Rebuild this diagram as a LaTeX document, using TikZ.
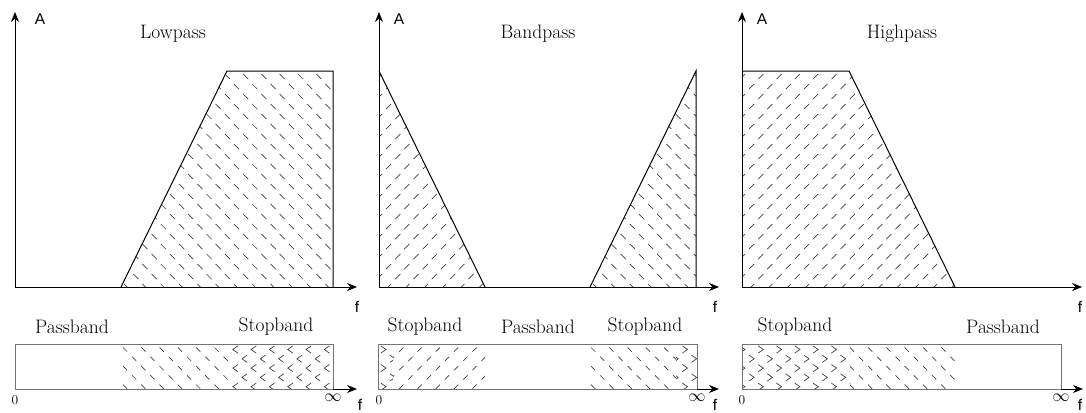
\documentclass[tikz,border=0pt]{standalone}
\usepackage{fontspec}
\newfontfamily\sansf{Liberation Sans}
\usetikzlibrary{arrows.meta}
\tikzset{
  ax/.style={line width=1pt, black, -{Stealth[length=10pt,width=8pt]}},
  edge/.style={line width=1pt, black},
  bar/.style={line width=0.9pt, draw=black!55},
  hl/.style={line width=0.7pt, black!75, line cap=round},
  ttl/.style={font=\fontsize{19.5}{20}\selectfont, inner sep=0pt},
  lab/.style={font=\sansf\fontsize{15.5}{16}\selectfont, inner sep=0pt},
  num/.style={font=\fontsize{13.5}{14}\selectfont, inner sep=0pt},
  inf/.style={font=\fontsize{18}{18}\selectfont, inner sep=0pt},
}
% grid of marks: #1 x-start, #2 x-end, #3 y-start, #4 number of rows, #5 row step, #6 drawing command using \xx,\yy
\newcommand\hatchgrid[6]{%
  \pgfmathtruncatemacro\hgnc{(#2-#1)/18.3+1}%
  \foreach \rr in {0,...,#4}{%
    \foreach \cc in {0,...,\hgnc}{%
      \pgfmathsetmacro\xx{#1+18.3*\cc+9.15*mod(\rr,2)}%
      \pgfmathsetmacro\yy{#3+#5*\rr}%
      #6
    }%
  }%
}
\newcommand\dashdown{\draw[hl] (\xx,\yy) -- ++(5,5);}
\newcommand\dashup{\draw[hl] (\xx,\yy) ++(0,5) -- ++(5,-5);}
\newcommand\bdown{\draw[hl] (\xx,\yy) -- ++(4,4);}
\newcommand\bup{\draw[hl] (\xx,\yy) ++(0,4) -- ++(4,-4);}
\newcommand\chevl{\draw[hl] (\xx,\yy) ++(5,-1.5) -- ++(-5,3.5) -- ++(5,3.5);}
\newcommand\chevr{\draw[hl] (\xx,\yy) ++(0,-1.5) -- ++(5,3.5) -- ++(-5,3.5);}
\begin{document}
\begin{tikzpicture}[x=1pt,y=-1pt]
\useasboundingbox (0,0) rectangle (1086,412);

% ================= Lowpass =================
\begin{scope}[xshift=15pt]
  \coordinate (o1) at (0,287);
  \coordinate (ya1) at (0,12);
  \coordinate (xa1) at (342,287);
  \begin{scope}
    \clip (106,287) -- (212,71) -- (318,71) -- (318,287) -- cycle;
    \hatchgrid{100}{330}{74}{21}{10}{\dashdown}
  \end{scope}
  \draw[edge] (106,287) -- (212,71) -- (318,71) -- (318,287);
  \draw[ax] (o1) -- (ya1);
  \draw[ax] (o1) -- (xa1);
  \node[lab] (A1) at (25,19) {A};
  \node[ttl] (t1) at (158,34) {Lowpass};
  \node[lab] (f1) at (342,307) {f};
  % bar
  \coordinate (b1) at (318,389);
  \coordinate (bx1) at (342,389);
  \begin{scope}
    \clip (106,344) rectangle (216,389);
    \hatchgrid{108}{230}{347.5}{4}{9.3}{\bdown}
  \end{scope}
  \begin{scope}
    \clip (216,344) rectangle (318,389);
    \hatchgrid{108}{330}{347.5}{4}{9.3}{\chevl}
  \end{scope}
  \draw[bar] (0,344) rectangle (318,389);
  \draw[ax] (b1) -- (bx1);
  \node[ttl] (p1) at (57,327) {Passband};
  \node[ttl] (s1) at (261,327) {Stopband};
  \node[num] (z1) at (0,400) {0};
  \node[inf] (i1) at (318,398) {$\infty$};
  \node[lab] (g1) at (345,405) {f};
\end{scope}

% ================= Bandpass =================
\begin{scope}[xshift=379pt]
  \coordinate (o2) at (0,287);
  \coordinate (ya2) at (0,12);
  \coordinate (xa2) at (340,287);
  \begin{scope}
    \clip (0,71) -- (106,287) -- (0,287) -- cycle;
    \hatchgrid{-2}{110}{74}{21}{10}{\dashup}
  \end{scope}
  \begin{scope}
    \clip (211,287) -- (317,71) -- (317,287) -- cycle;
    \hatchgrid{205}{330}{74}{21}{10}{\dashdown}
  \end{scope}
  \draw[edge] (0,71) -- (106,287);
  \draw[edge] (211,287) -- (317,71) -- (317,287);
  \draw[ax] (o2) -- (ya2);
  \draw[ax] (o2) -- (xa2);
  \node[lab] (A2) at (20,19) {A};
  \node[ttl] (t2) at (159,34) {Bandpass};
  \node[lab] (f2) at (336,307) {f};
  % bar
  \coordinate (b2) at (318,389);
  \coordinate (bx2) at (340,389);
  \begin{scope}
    \clip (-1,344) rectangle (14,389);
    \hatchgrid{2}{110}{347.5}{4}{9.3}{\chevr}
  \end{scope}
  \begin{scope}
    \clip (14,344) rectangle (106,389);
    \hatchgrid{2}{110}{347.5}{4}{9.3}{\bup}
  \end{scope}
  \begin{scope}
    \clip (211,344) rectangle (297,389);
    \hatchgrid{212}{330}{347.5}{4}{9.3}{\bdown}
  \end{scope}
  \begin{scope}
    \clip (297,344) rectangle (318,389);
    \hatchgrid{212}{330}{347.5}{4}{9.3}{\chevr}
  \end{scope}
  \draw[bar] (-1,344) rectangle (318,389);
  \draw[ax] (b2) -- (bx2);
  \node[ttl] (s2a) at (46,327) {Stopband};
  \node[ttl] (p2) at (159,327) {Passband};
  \node[ttl] (s2b) at (266,327) {Stopband};
  \node[num] (z2) at (0,400) {0};
  \node[inf] (i2) at (318,398) {$\infty$};
  \node[lab] (g2) at (336,405) {f};
\end{scope}

% ================= Highpass =================
\begin{scope}[xshift=742pt]
  \coordinate (o3) at (0,287);
  \coordinate (ya3) at (0,12);
  \coordinate (xa3) at (340,287);
  \begin{scope}
    \clip (0,71) -- (107,71) -- (213,287) -- (0,287) -- cycle;
    \hatchgrid{-2}{220}{74}{21}{10}{\dashup}
  \end{scope}
  \draw[edge] (0,71) -- (107,71) -- (213,287);
  \draw[ax] (o3) -- (ya3);
  \draw[ax] (o3) -- (xa3);
  \node[lab] (A3) at (20,19) {A};
  \node[ttl] (t3) at (160,34) {Highpass};
  \node[lab] (f3) at (338,307) {f};
  % bar
  \coordinate (b3) at (319,389);
  \coordinate (bx3) at (341,389);
  \begin{scope}
    \clip (0,344) rectangle (108,389);
    \hatchgrid{-2}{220}{347.5}{4}{9.3}{\chevr}
  \end{scope}
  \begin{scope}
    \clip (108,344) rectangle (213,389);
    \hatchgrid{-2}{220}{347.5}{4}{9.3}{\bdown}
  \end{scope}
  \draw[bar] (0,344) rectangle (319,389);
  \draw[ax] (b3) -- (bx3);
  \node[ttl] (s3) at (53,327) {Stopband};
  \node[ttl] (p3) at (261,327) {Passband};
  \node[num] (z3) at (0,400) {0};
  \node[inf] (i3) at (319,398) {$\infty$};
  \node[lab] (g3) at (338,405) {f};
\end{scope}
\end{tikzpicture}
\end{document}
